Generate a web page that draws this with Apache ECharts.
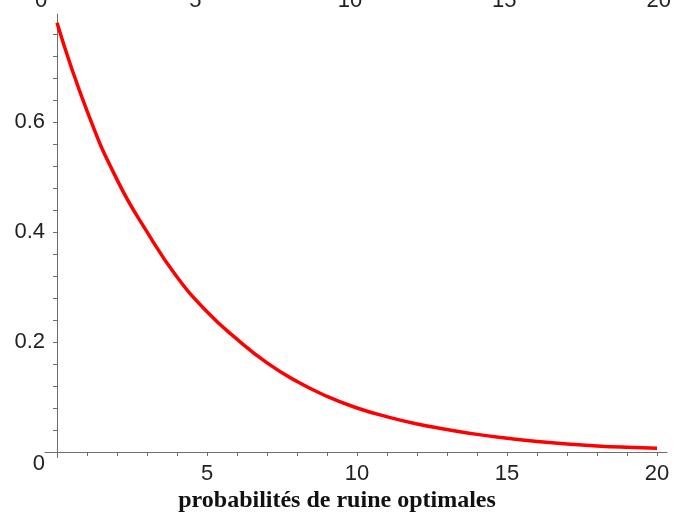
<!DOCTYPE html>
<html>
<head>
<meta charset="utf-8">
<script src="https://cdn.jsdelivr.net/npm/echarts@6/dist/echarts.min.js"></script>
<style>
html, body { margin: 0; padding: 0; background: #fff; }
#chart { width: 674px; height: 513px; }
</style>
</head>
<body>
<div id="chart"></div>
<script>
// values
var xValues = [0, 1, 2, 3, 4, 5, 6, 7, 8, 9, 10, 11, 12, 13, 14, 15, 16, 17, 18, 19, 20];
var ruinProb = [0.78, 0.62, 0.495, 0.40, 0.318, 0.255, 0.205, 0.162, 0.128, 0.101, 0.080,
                0.064, 0.051, 0.041, 0.032, 0.025, 0.019, 0.0145, 0.011, 0.0085, 0.0067];
var xTickLabels = [5, 10, 15, 20];
var xMinorTicks = [0, 1, 2, 3, 4, 5, 6, 7, 8, 9, 10, 11, 12, 13, 14, 15, 16, 17, 18, 19, 20];
var yTickLabels = [0, 0.2, 0.4, 0.6];
var yMinorTicks = [0, 0.04, 0.08, 0.12, 0.16, 0.2, 0.24, 0.28, 0.32, 0.36, 0.4,
                   0.44, 0.48, 0.52, 0.56, 0.6, 0.64, 0.68, 0.72, 0.76];
var topLabels = [0, 5, 10, 15, 20];
var titleText = 'probabilités de ruine optimales';

var points = [];
for (var i = 0; i < xValues.length; i++) {
    points.push([xValues[i], ruinProb[i]]);
}

var axisColor = '#6e6e6e';
var labelFont = {
    color: '#222',
    fontFamily: 'Liberation Sans, Arial, sans-serif',
    fontSize: 22
};

var chart = echarts.init(document.getElementById('chart'));
chart.setOption({
    animation: false,
    title: {
        text: titleText,
        left: 'center',
        top: 484,
        textStyle: {
            fontFamily: 'Liberation Serif, Times New Roman, serif',
            fontWeight: 'bold',
            fontSize: 24,
            color: '#111'
        }
    },
    grid: [
        { left: 45, width: 622, top: 14, height: 443.5 },
        { left: 41, width: 640, top: 13, height: 1 }
    ],
    xAxis: [
        {
            gridIndex: 0,
            type: 'value',
            min: -0.4,
            max: 20.33,
            splitLine: { show: false },
            axisLine: { onZero: true, lineStyle: { color: axisColor, width: 1 } },
            axisTick: { show: true, length: 4, customValues: xMinorTicks, lineStyle: { color: axisColor } },
            axisLabel: Object.assign({ customValues: xTickLabels, margin: 5 }, labelFont)
        },
        {
            gridIndex: 1,
            type: 'value',
            position: 'top',
            min: 0,
            max: 20,
            splitLine: { show: false },
            axisLine: { show: false },
            axisTick: { show: false },
            axisLabel: Object.assign({ customValues: topLabels, margin: 2 }, labelFont)
        }
    ],
    yAxis: [
        {
            gridIndex: 0,
            type: 'value',
            min: -0.01,
            max: 0.796,
            splitLine: { show: false },
            axisLine: { onZero: true, lineStyle: { color: axisColor, width: 1 } },
            axisTick: { show: true, length: 4, customValues: yMinorTicks, lineStyle: { color: axisColor } },
            axisLabel: Object.assign({
                customValues: yTickLabels,
                margin: 0,
                formatter: function (v) {
                    if (v === 0) return '{z|0}';
                    return String(v);
                },
                rich: {
                    z: { padding: [23, 0, 0, 0], fontSize: 22, color: '#222', fontFamily: 'Liberation Sans, Arial, sans-serif' }
                }
            }, labelFont)
        },
        {
            gridIndex: 1,
            type: 'value',
            show: false
        }
    ],
    series: [
        {
            type: 'line',
            xAxisIndex: 0,
            yAxisIndex: 0,
            data: points,
            smooth: true,
            showSymbol: false,
            lineStyle: { color: '#ff0000', width: 3.5 }
        }
    ]
});
</script>
</body>
</html>
